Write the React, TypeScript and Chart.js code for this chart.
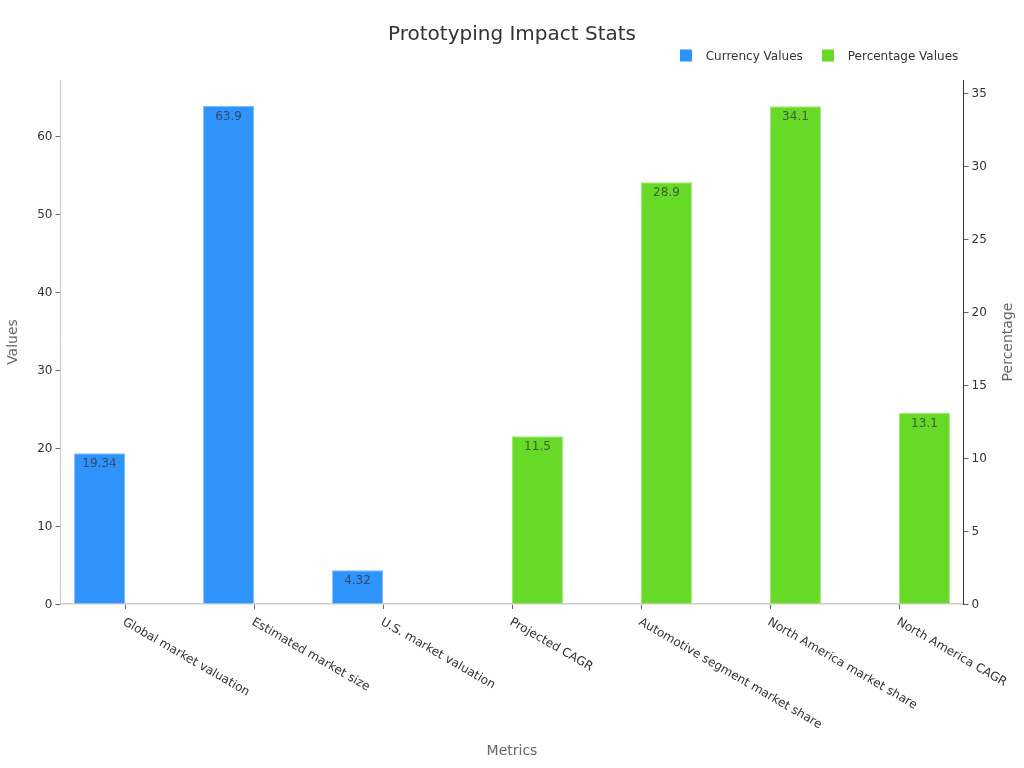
import { Chart, registerables, type Plugin } from 'chart.js'
import { useEffect, useRef } from 'react'

Chart.register(...registerables)

const FONT = '"DejaVu Sans", sans-serif'

const categories = [
  'Global market valuation',
  'Estimated market size',
  'U.S. market valuation',
  'Projected CAGR',
  'Automotive segment market share',
  'North America market share',
  'North America CAGR',
]
const currencyValues = [19.34, 63.9, 4.32, null, null, null, null]
const percentageValues = [null, null, null, 11.5, 28.9, 34.1, 13.1]

// chart.js can only rotate x labels so they end at the tick, these start at it.
// the y labels sit a touch lower than its middle baseline, so they are drawn here too
const axisLabels: Plugin<'bar'> = {
  id: 'axisLabels',
  afterDraw(chart) {
    const { ctx, scales } = chart
    ctx.save()
    ctx.font = `12px ${FONT}`
    ctx.fillStyle = '#333'

    ctx.textAlign = 'left'
    ctx.textBaseline = 'top'
    categories.forEach((label, i) => {
      ctx.save()
      ctx.translate(scales.x.getPixelForTick(i) + 1.5, scales.x.top + 12)
      ctx.rotate(Math.PI / 6)
      ctx.fillText(label, 0, 0)
      ctx.restore()
    })

    ctx.textBaseline = 'middle'
    ctx.textAlign = 'right'
    scales.y.ticks.forEach((tick, i) => {
      ctx.fillText(String(tick.value), scales.y.right - 8, scales.y.getPixelForTick(i) + 1)
    })
    ctx.textAlign = 'left'
    scales.y1.ticks.forEach((tick, i) => {
      ctx.fillText(String(tick.value), scales.y1.left + 8, scales.y1.getPixelForTick(i) + 1)
    })

    // the library turns a right-hand title the other way round
    ctx.save()
    ctx.font = `14px ${FONT}`
    ctx.fillStyle = '#666'
    ctx.textAlign = 'center'
    ctx.translate(1008, (scales.y1.top + scales.y1.bottom) / 2)
    ctx.rotate(-Math.PI / 2)
    ctx.fillText('Percentage', 0, 0)
    ctx.restore()

    ctx.restore()
  },
}

const barValues: Plugin<'bar'> = {
  id: 'barValues',
  afterDatasetsDraw(chart) {
    const { ctx } = chart
    ctx.save()
    ctx.font = `12px ${FONT}`
    ctx.fillStyle = 'rgba(51, 51, 51, 0.75)'
    ctx.textAlign = 'center'
    ctx.textBaseline = 'middle'
    chart.data.datasets.forEach((dataset, d) => {
      chart.getDatasetMeta(d).data.forEach((bar, i) => {
        const value = dataset.data[i]
        if (value !== null) {
          ctx.fillText(String(value), bar.x, bar.y + 11)
        }
      })
    })
    ctx.restore()
  },
}

// the gap between swatch and text is wider than the built-in legend allows
const legendRow: Plugin<'bar'> = {
  id: 'legendRow',
  afterDraw(chart) {
    const { ctx } = chart
    const y = 55.5
    let right = 958.3
    ctx.save()
    ctx.font = `12px ${FONT}`
    ctx.textAlign = 'left'
    ctx.textBaseline = 'middle'
    for (const dataset of [...chart.data.datasets].reverse()) {
      const label = dataset.label ?? ''
      const left = right - ctx.measureText(label).width
      ctx.fillStyle = '#333'
      ctx.fillText(label, left, y + 1)
      ctx.fillStyle = dataset.backgroundColor as string
      ctx.fillRect(Math.round(left - 25.5), y - 6, 12, 12)
      right = left - 45
    }
    ctx.restore()
  },
}

export default function App() {
  const canvasRef = useRef<HTMLCanvasElement | null>(null)

  useEffect(() => {
    const canvas = canvasRef.current
    if (!canvas) {
      return
    }

    const titleFont = { family: FONT, size: 14 }

    const chart = new Chart(canvas, {
      type: 'bar',
      data: {
        labels: categories,
        datasets: [
          {
            label: 'Currency Values',
            data: currencyValues,
            yAxisID: 'y',
            backgroundColor: '#2e93fa',
            borderColor: '#7dbcfb',
            borderWidth: 1,
            barPercentage: 1,
            categoryPercentage: 0.79,
          },
          {
            label: 'Percentage Values',
            data: percentageValues,
            yAxisID: 'y1',
            backgroundColor: '#66da26',
            borderColor: '#a0e87a',
            borderWidth: 1,
            barPercentage: 1,
            categoryPercentage: 0.79,
          },
        ],
      },
      options: {
        animation: false,
        responsive: false,
        plugins: {
          legend: { display: false },
          tooltip: { enabled: false },
          title: {
            display: true,
            text: 'Prototyping Impact Stats',
            color: '#333',
            font: { family: FONT, size: 20, weight: 'normal' },
            padding: { top: 23, bottom: 33 },
          },
        },
        scales: {
          x: {
            afterFit: (scale) => {
              scale.height = 164
            },
            ticks: { display: false },
            grid: {
              offset: false,
              drawOnChartArea: false,
              tickLength: 5,
              tickColor: '#666',
            },
            border: { color: '#ccc', width: 1.5 },
            title: {
              display: true,
              text: 'Metrics',
              color: '#666',
              font: titleFont,
              padding: { top: 0, bottom: 8.6 },
            },
          },
          y: {
            position: 'left',
            min: 0,
            max: 67.2,
            afterFit: (scale) => {
              scale.width = 60.5
            },
            ticks: {
              display: false,
              stepSize: 10,
              includeBounds: false,
            },
            grid: {
              drawOnChartArea: false,
              tickLength: 5,
              tickColor: '#666',
            },
            border: { color: '#ccc', width: 1 },
            title: {
              display: true,
              text: 'Values',
              color: '#666',
              font: titleFont,
              padding: { top: 4.6, bottom: 0 },
            },
          },
          y1: {
            position: 'right',
            min: 0,
            max: 35.9,
            afterFit: (scale) => {
              scale.width = 60.5
            },
            ticks: {
              display: false,
              stepSize: 5,
              includeBounds: false,
            },
            grid: {
              drawOnChartArea: false,
              tickLength: 5,
              tickColor: '#666',
            },
            border: { color: '#333', width: 1 },
          },
        },
      },
      plugins: [barValues, axisLabels, legendRow],
    })

    return () => {
      chart.destroy()
    }
  }, [])

  return (
    <div style={{ position: 'fixed', left: 0, top: 0, width: 1024, height: 768, background: '#fff' }}>
      <canvas ref={canvasRef} width={1024} height={768} style={{ display: 'block' }} />
    </div>
  )
}
